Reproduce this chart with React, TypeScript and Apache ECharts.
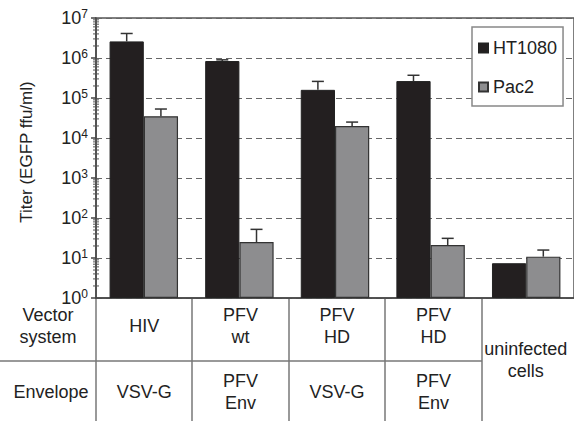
import React, { useEffect, useRef } from "react";
import * as echarts from "echarts";

const categories = ["HIV / VSV-G", "PFV wt / PFV Env", "PFV HD / VSV-G", "PFV HD / PFV Env", "uninfected cells"];
const vectorSystem = ["HIV", "PFV\nwt", "PFV\nHD", "PFV\nHD"];
const envelope = ["VSV-G", "PFV\nEnv", "VSV-G", "PFV\nEnv"];
const mergedLabel = "uninfected\ncells";
const rowLabels = ["Vector\nsystem", "Envelope"];

const ht1080 = [2.6e6, 8.4e5, 1.6e5, 2.65e5, 7.4];
const ht1080Err = [4.1e6, 9.0e5, 2.6e5, 3.7e5, 7.4];
const pac2 = [3.5e4, 25, 2.0e4, 21, 10.8];
const pac2Err = [5.3e4, 52, 2.5e4, 31, 15.8];

const FONT = "'Liberation Sans', Arial, Helvetica, sans-serif";
const TXT = "#222";

export default function App() {
  const ref = useRef<HTMLDivElement>(null);
  useEffect(() => {
    if (!ref.current) return;
    const chart = echarts.init(ref.current, undefined, { renderer: "svg" });
    const gridLeft = 96, gridTop = 18, gridW = 482, gridH = 280;
    const band = gridW / categories.length;
    const barFrac = 0.358;
    const bottom = gridTop + gridH;
    const rowSep = 361;
    const row1Y = 326, row2Y = 392;

    const errData: number[][] = [];
    ht1080.forEach((v, i) => { if (ht1080Err[i] > v) errData.push([i, -1, v, ht1080Err[i]]); });
    pac2.forEach((v, i) => { if (pac2Err[i] > v) errData.push([i, 1, v, pac2Err[i]]); });

    const minorVals: number[][] = [];
    for (let k = 0; k < 7; k++) for (let d = 2; d <= 9; d++) minorVals.push([0, d * Math.pow(10, k)]);

    const graphics: any[] = [];
    const lineStyle = { stroke: "#777", lineWidth: 1.5 };
    for (let i = 0; i < categories.length; i++) {
      const x = Math.round(gridLeft + i * band);
      graphics.push({ type: "line", shape: { x1: x, y1: bottom, x2: x, y2: 421 }, style: lineStyle, silent: true });
    }
    graphics.push({ type: "line", shape: { x1: 0, y1: rowSep, x2: Math.round(gridLeft + 4 * band), y2: rowSep }, style: lineStyle, silent: true });
    const textStyle = (t: string, x: number, y: number) => ({
      type: "text", x, y, silent: true,
      style: { text: t, fill: TXT, font: `18px ${FONT}`, align: "center", verticalAlign: "middle", lineHeight: 22 },
    });
    graphics.push(textStyle(rowLabels[0], 48, row1Y));
    graphics.push(textStyle(rowLabels[1], 51, row2Y));
    vectorSystem.forEach((t, i) => graphics.push(textStyle(t, gridLeft + (i + 0.5) * band, row1Y)));
    envelope.forEach((t, i) => graphics.push(textStyle(t, gridLeft + (i + 0.5) * band, row2Y)));
    graphics.push(textStyle(mergedLabel, gridLeft + 4.5 * band - 4, 360));

    chart.setOption({
      animation: false,
      grid: { left: gridLeft, top: gridTop, width: gridW, height: gridH, show: true, borderColor: "#555", borderWidth: 1.5 },
      legend: {
        orient: "vertical", left: 472, top: 27,
        padding: [11, 6, 9, 6], itemGap: 19, itemWidth: 9, itemHeight: 9,
        borderColor: "#888", borderWidth: 1.5, backgroundColor: "#fff",
        textStyle: { fontSize: 18, fontFamily: FONT, color: TXT, lineHeight: 20 },
        data: [{ name: "HT1080", icon: "rect" }, { name: "Pac2", icon: "rect" }],
      },
      xAxis: {
        type: "category", data: categories,
        axisLine: { lineStyle: { color: "#444", width: 1.5 } },
        axisTick: { show: false }, axisLabel: { show: false },
      },
      yAxis: {
        type: "log", logBase: 10, min: 1, max: 1e7, splitNumber: 7,
        name: "Titer (EGFP ffu/ml)", nameLocation: "middle", nameGap: 61,
        nameTextStyle: { fontSize: 17, fontFamily: FONT, color: TXT, padding: [0, 0, 0, 12] },
        axisLine: { show: true, lineStyle: { color: "#444", width: 1.5 } },
        axisTick: { show: true, length: 5, lineStyle: { color: "#444", width: 1.5 } },
        splitLine: { show: true, lineStyle: { color: "#666", type: [6, 4], width: 1.2 } },
        axisLabel: {
          margin: 8,
          formatter: (v: number) => `{b|10}{s|${Math.round(Math.log10(v))}}`,
          rich: {
            b: { fontSize: 18, fontFamily: FONT, color: TXT, lineHeight: 20 },
            s: { fontSize: 12, fontFamily: FONT, color: TXT, verticalAlign: "top", lineHeight: 12 },
          },
        },
      },
      series: [
        {
          name: "HT1080", type: "bar", data: ht1080, barWidth: "35.8%", barGap: "0%",
          itemStyle: { color: "#231f20", borderColor: "#222", borderWidth: 1 },
        },
        {
          name: "Pac2", type: "bar", data: pac2, barWidth: "35.8%", barGap: "0%",
          itemStyle: { color: "#8d8d8f", borderColor: "#333", borderWidth: 1.2 },
        },
        {
          type: "custom", data: errData, encode: { x: 0, y: [2, 3] }, z: 5, silent: true,
          renderItem: (params: any, api: any) => {
            const cat = api.value(0), side = api.value(1), v = api.value(2), e = api.value(3);
            const bw = api.size([1, 1])[0] * barFrac;
            const p1 = api.coord([cat, v]);
            const p2 = api.coord([cat, e]);
            const x = p1[0] + side * bw / 2;
            const st = { stroke: "#333", lineWidth: 1.5 };
            return {
              type: "group",
              children: [
                { type: "line", shape: { x1: x, y1: p1[1], x2: x, y2: p2[1] }, style: st },
                { type: "line", shape: { x1: x - 6, y1: p2[1], x2: x + 6, y2: p2[1] }, style: st },
              ],
            };
          },
        },
        {
          type: "custom", data: minorVals, encode: { x: 0, y: 1 }, z: 5, silent: true,
          renderItem: (params: any, api: any) => {
            const p = api.coord([0, api.value(1)]);
            const x = p[0] - api.size([1, 1])[0] / 2;
            return { type: "line", shape: { x1: x - 3, y1: p[1], x2: x + 3, y2: p[1] }, style: { stroke: "#555", lineWidth: 1 } };
          },
        },
      ],
      graphic: graphics,
    });
    return () => chart.dispose();
  }, []);
  return <div ref={ref} style={{ position: "fixed", left: 0, top: 0, width: 574, height: 421, background: "#fff" }} />;
}
